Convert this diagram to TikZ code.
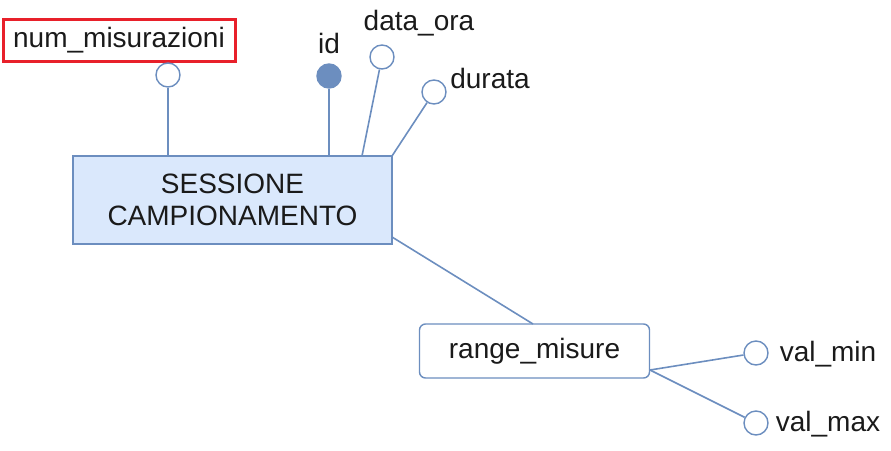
\documentclass[tikz,border=0pt]{standalone}
\usepackage{fontspec}
\setmainfont{Liberation Sans}
\definecolor{edgeblue}{HTML}{6C8EBF}
\definecolor{fillblue}{HTML}{DAE8FC}
\definecolor{redbox}{HTML}{E8202A}
\definecolor{txt}{HTML}{1A1A1A}
\begin{document}
\begin{tikzpicture}[x=1pt,y=-1pt,
  every node/.style={text=txt,font=\fontsize{28}{32}\selectfont},
  entity/.style={draw=edgeblue,fill=fillblue,line width=1.6pt,minimum width=319pt,minimum height=88pt,align=center,inner sep=0pt},
  attrbox/.style={draw=edgeblue,fill=white,line width=1.4pt,rounded corners=6pt,minimum width=230pt,minimum height=54pt,inner sep=0pt},
  attr/.style={circle,draw=edgeblue,fill=white,line width=1.4pt,minimum size=24pt,inner sep=0pt},
  keyattr/.style={circle,draw=edgeblue,fill=edgeblue,line width=1.4pt,minimum size=24pt,inner sep=0pt},
  lbl/.style={inner sep=0pt},
  conn/.style={draw=edgeblue,line width=1.6pt},
  hilite/.style={draw=redbox,line width=3pt,minimum width=232pt,minimum height=42pt,inner sep=0pt}
]
\useasboundingbox (0,0) rectangle (891,450);
% entity
\node[entity] (sc) at (232.5,200) {SESSIONE\\CAMPIONAMENTO};
% highlighted attribute label
\node[hilite] (nmlbl) at (119,40) {num\_misurazioni};
% attribute circles
\node[attr] (nm) at (168,75) {};
\node[keyattr] (id) at (329,76) {};
\node[attr] (dor) at (382,57) {};
\node[attr] (dur) at (434,92) {};
% labels
\node[lbl] (idlbl) at (329,43) {id};
\node[lbl] (dorlbl) at (419,23) {data\_ora};
\node[lbl] (durlbl) at (490,78) {durata};
% border points on entity
\coordinate (p1) at (168,156);
\coordinate (p2) at (329,156);
\coordinate (p3) at (362,156);
\coordinate (p4) at (392,156);
\coordinate (p5) at (392,237);
\draw[conn] (nm) -- (p1);
\draw[conn] (id) -- (p2);
\draw[conn] (dor) -- (p3);
\draw[conn] (dur) -- (p4);
% composite attribute
\node[attrbox] (rm) at (534.5,351) {range\_misure};
\coordinate (rmtop) at (533,324);
\coordinate (rmr) at (650,370);
\draw[conn] (p5) -- (rmtop);
\node[attr] (vmin) at (756,353) {};
\node[attr] (vmax) at (756,423) {};
\node[lbl] (vminlbl) at (828,354) {val\_min};
\node[lbl] (vmaxlbl) at (828,424) {val\_max};
\draw[conn] (rmr) -- (vmin);
\draw[conn] (rmr) -- (vmax);
\end{tikzpicture}
\end{document}
